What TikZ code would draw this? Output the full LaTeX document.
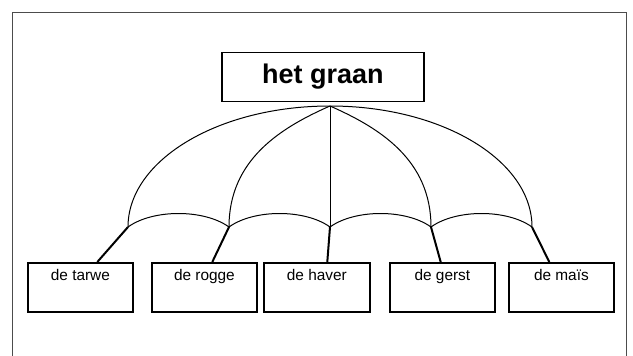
\documentclass[tikz,border=0pt]{standalone}
\usepackage{fontspec}
\setmainfont{Liberation Sans}
\begin{document}
\begin{tikzpicture}[x=1pt,y=-1pt,
  frame/.style={draw=black!70,line width=1pt},
  topbox/.style={draw,line width=1.8pt,minimum width=202pt,minimum height=49pt,inner sep=0pt,font=\bfseries\fontsize{27}{30}\selectfont},
  childbox/.style={draw,line width=1.8pt,minimum width=105pt,minimum height=49pt,inner sep=0pt,anchor=north west},
  childtext/.style={anchor=base,inner sep=0pt,font=\fontsize{15.4}{18}\selectfont},
  rib/.style={line width=1pt},
  handle/.style={line width=2pt}]
\useasboundingbox (0,0) rectangle (633,356);
\clip (0,0) rectangle (633,356);
\draw[frame] (12,370) -- (12,12) -- (626,12) -- (626,370);
\node[topbox] (top) at (323,77) {het graan};
\coordinate (A) at (330,106);
\coordinate (r1) at (128,227);
\coordinate (r2) at (229,227);
\coordinate (r3) at (330,227);
\coordinate (r4) at (431,227);
\coordinate (r5) at (532,227);
% ribs
\draw[rib] (A) .. controls (218.4,106) and (128,160.2) .. (r1);
\draw[rib] (A) .. controls (280,128) and (229,160) .. (r2);
\draw[rib] (A) -- (r3);
\draw[rib] (A) .. controls (380,128) and (431,160) .. (r4);
\draw[rib] (A) .. controls (441.6,106) and (532,160.2) .. (r5);
% scallops
\draw[rib] (r1) .. controls (153,209) and (204,209) .. (r2);
\draw[rib] (r2) .. controls (254,209) and (305,209) .. (r3);
\draw[rib] (r3) .. controls (355,209) and (406,209) .. (r4);
\draw[rib] (r4) .. controls (456,209) and (507,209) .. (r5);
% children
\node[childbox] (c1) at (27,262) {};
\node[childbox] (c2) at (151,262) {};
\node[childbox,minimum width=106pt] (c3) at (263,262) {};
\node[childbox] (c4) at (389,262) {};
\node[childbox] (c5) at (508,262) {};
\node[childtext] (l1) at ([yshift=-18pt]c1.north) {de tarwe};
\node[childtext] (l2) at ([yshift=-18pt]c2.north) {de rogge};
\node[childtext] (l3) at ([yshift=-18pt]c3.north) {de haver};
\node[childtext] (l4) at ([yshift=-18pt]c4.north) {de gerst};
\node[childtext] (l5) at ([yshift=-18pt]c5.north) {de maïs};
% handles
\coordinate (h1) at (97.3,262);
\coordinate (h2) at (212.3,262);
\coordinate (h3) at (327.3,262);
\coordinate (h4) at (440.7,262);
\coordinate (h5) at (549.3,262);
\draw[handle] (r1) -- (h1);
\draw[handle] (r2) -- (h2);
\draw[handle] (r3) -- (h3);
\draw[handle] (r4) -- (h4);
\draw[handle] (r5) -- (h5);
\end{tikzpicture}
\end{document}
